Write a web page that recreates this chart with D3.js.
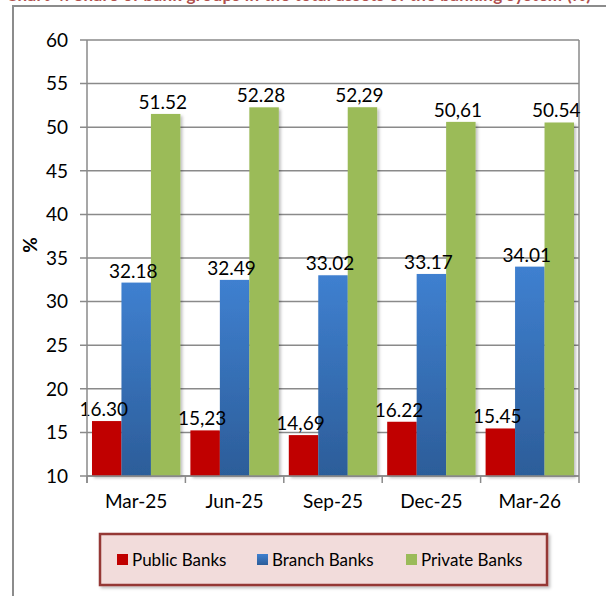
<!DOCTYPE html>
<html>
<head>
<meta charset="utf-8">
<script src="https://cdn.jsdelivr.net/npm/d3@7"></script>
<style>
  body { margin: 0; background: #fff; }
  svg { display: block; font-family: Lato, "Open Sans", sans-serif; }
</style>
</head>
<body>
<svg></svg>
<script>
var width = 606;
var height = 596;

// data
var categories = ["Mar-25", "Jun-25", "Sep-25", "Dec-25", "Mar-26"];
var seriesNames = ["Public Banks", "Branch Banks", "Private Banks"];
var publicBanks = [16.30, 15.23, 14.69, 16.22, 15.45];
var branchBanks = [32.18, 32.49, 33.02, 33.17, 34.01];
var privateBanks = [51.52, 52.28, 52.29, 50.61, 50.54];
// labels as printed (some use a decimal comma)
var publicLabels = ["16.30", "15,23", "14,69", "16.22", "15.45"];
var branchLabels = ["32.18", "32.49", "33.02", "33.17", "34.01"];
var privateLabels = ["51.52", "52.28", "52,29", "50,61", "50.54"];
var yTicks = [10, 15, 20, 25, 30, 35, 40, 45, 50, 55, 60];

var allValues = [publicBanks, branchBanks, privateBanks];
var allLabels = [publicLabels, branchLabels, privateLabels];
var colors = ["#c00000", "url(#blueGrad)", "#9bbb59"];

var svg = d3.select("svg")
  .attr("width", width)
  .attr("height", height);

var defs = svg.append("defs");
var grad = defs.append("linearGradient")
  .attr("id", "blueGrad")
  .attr("x1", 0).attr("y1", 0).attr("x2", 0).attr("y2", 1);
grad.append("stop").attr("offset", "0%").attr("stop-color", "#3f80d0");
grad.append("stop").attr("offset", "100%").attr("stop-color", "#2c5d99");

var shadow = defs.append("filter").attr("id", "shadow")
  .attr("x", "-20%").attr("y", "-20%").attr("width", "150%").attr("height", "150%");
shadow.append("feDropShadow")
  .attr("dx", 2).attr("dy", 2).attr("stdDeviation", 1.5)
  .attr("flood-color", "#000").attr("flood-opacity", 0.25);

// title, cut off at the very top like the source
svg.append("text")
  .attr("x", 6)
  .attr("y", 1)
  .attr("textLength", 585)
  .attr("font-size", 17)
  .attr("font-weight", "bold")
  .attr("fill", "#b0504d")
  .text("Chart 4: Share of bank groups in the total assets of the banking system (%)");

// outer frame
svg.append("rect")
  .attr("x", 13).attr("y", 6)
  .attr("width", 700).attr("height", 700)
  .attr("fill", "none")
  .attr("stroke", "#8c8c8c")
  .attr("stroke-width", 2);

var plotLeft = 87, plotRight = 579, plotTop = 40, plotBottom = 476;

var y = d3.scaleLinear().domain([10, 60]).range([plotBottom, plotTop]);
var x0 = d3.scaleBand().domain(categories).range([plotLeft, plotRight]);
var x1 = d3.scaleBand().domain(seriesNames).range([5, x0.bandwidth() - 5]);

// gridlines
svg.append("g").selectAll("line")
  .data(yTicks).enter().append("line")
  .attr("x1", plotLeft - 7)
  .attr("x2", plotRight)
  .attr("y1", function(d) { return y(d); })
  .attr("y2", function(d) { return y(d); })
  .attr("stroke", "#8a8a8a")
  .attr("stroke-width", 1.5);

// right border of plot
svg.append("line")
  .attr("x1", plotRight).attr("x2", plotRight)
  .attr("y1", plotTop).attr("y2", plotBottom + 7)
  .attr("stroke", "#8a8a8a").attr("stroke-width", 1.5);

// y axis labels
svg.append("g").selectAll("text")
  .data(yTicks).enter().append("text")
  .attr("x", plotLeft - 19)
  .attr("y", function(d) { return y(d); })
  .attr("dy", "0.36em")
  .attr("text-anchor", "end")
  .attr("font-size", 19)
  .attr("fill", "#000")
  .text(function(d) { return d; });

svg.append("text")
  .attr("transform", "translate(37,245) rotate(-90)")
  .attr("text-anchor", "middle")
  .attr("font-size", 19)
  .attr("font-weight", "bold")
  .text("%");

// bars
var rows = [];
allValues.forEach(function(vals, s) {
  vals.forEach(function(v, i) {
    rows.push({ s: s, cat: categories[i], value: v, label: allLabels[s][i] });
  });
});

svg.append("g").selectAll("rect")
  .data(rows).enter().append("rect")
  .attr("x", function(d) { return x0(d.cat) + x1(seriesNames[d.s]); })
  .attr("y", function(d) { return y(d.value); })
  .attr("width", x1.bandwidth())
  .attr("height", function(d) { return y(10) - y(d.value); })
  .attr("fill", function(d) { return colors[d.s]; })
  .attr("filter", "url(#shadow)");

svg.append("g").selectAll("text")
  .data(rows).enter().append("text")
  .attr("x", function(d) { return x0(d.cat) + x1(seriesNames[d.s]) + x1.bandwidth() / 2 - 3; })
  .attr("y", function(d) { return y(d.value) - 5; })
  .attr("text-anchor", "middle")
  .attr("font-size", 19)
  .attr("fill", "#000")
  .text(function(d) { return d.label; });

// x axis
svg.append("line")
  .attr("x1", plotLeft).attr("x2", plotRight)
  .attr("y1", plotBottom).attr("y2", plotBottom)
  .attr("stroke", "#8a8a8a").attr("stroke-width", 1.5);
svg.append("line")
  .attr("x1", plotLeft).attr("x2", plotLeft)
  .attr("y1", plotTop).attr("y2", plotBottom + 7)
  .attr("stroke", "#8a8a8a").attr("stroke-width", 1.5);

svg.append("g").selectAll("line")
  .data(categories).enter().append("line")
  .attr("x1", function(d) { return x0(d); })
  .attr("x2", function(d) { return x0(d); })
  .attr("y1", plotBottom).attr("y2", plotBottom + 7)
  .attr("stroke", "#8a8a8a").attr("stroke-width", 1.5);

svg.append("g").selectAll("text")
  .data(categories).enter().append("text")
  .attr("x", function(d) { return x0(d) + x0.bandwidth() / 2; })
  .attr("y", 508)
  .attr("text-anchor", "middle")
  .attr("font-size", 19)
  .text(function(d) { return d; });

// legend
var legend = svg.append("g");
legend.append("rect")
  .attr("x", 100).attr("y", 534)
  .attr("width", 447).attr("height", 51)
  .attr("fill", "#f2dcdb")
  .attr("stroke", "#953735")
  .attr("stroke-width", 2.5)
  .attr("filter", "url(#shadow)");

var legendX = [117, 257, 406];
var item = legend.selectAll(".item")
  .data(seriesNames).enter().append("g")
  .attr("class", "item")
  .attr("transform", function(d, i) { return "translate(" + legendX[i] + ",560)"; });

item.append("rect")
  .attr("x", 0).attr("y", -6)
  .attr("width", 11).attr("height", 11)
  .attr("fill", function(d, i) { return colors[i]; });

item.append("text")
  .attr("x", 15)
  .attr("dy", "0.36em")
  .attr("font-size", 17)
  .text(function(d) { return d; });
</script>
</body>
</html>
